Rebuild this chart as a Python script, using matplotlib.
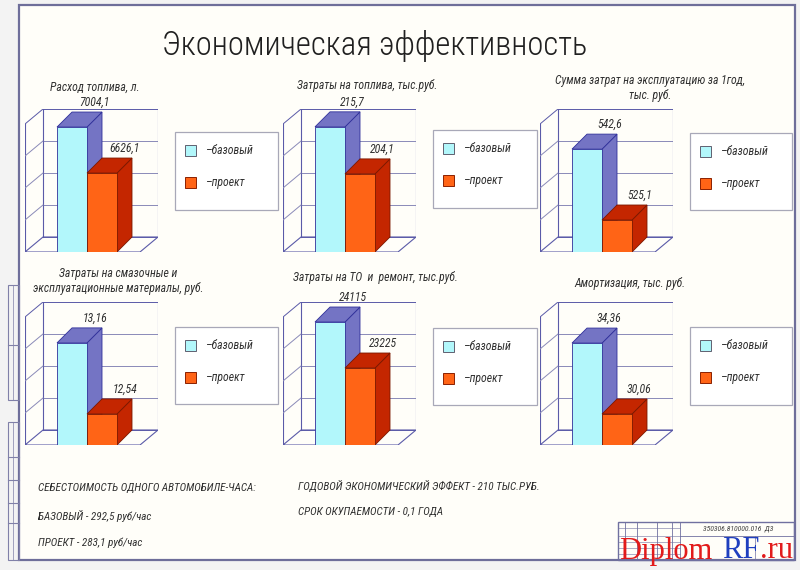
import matplotlib
matplotlib.use("Agg")
import matplotlib.pyplot as plt
from matplotlib.patches import Polygon, Rectangle
from matplotlib import font_manager as fm

# ---------------- data ----------------
titles = [
    "Расход топлива, л.",
    "Затраты на топлива, тыс.руб.",
    "Сумма затрат на эксплуатацию за 1год,\nтыс. руб.",
    "Затраты на смазочные и\nэксплуатационные материалы, руб.",
    "Затраты на ТО  и  ремонт, тыс.руб.",
    "Амортизация, тыс. руб.",
]
series_names = ["–базовый", "–проект"]
base_values = [7004.1, 215.7, 542.6, 13.16, 24115, 34.36]
proj_values = [6626.1, 204.1, 525.1, 12.54, 23225, 30.06]
base_labels = ["7004,1", "215,7", "542,6", "13,16", "24115", "34,36"]
proj_labels = ["6626,1", "204,1", "525,1", "12,54", "23225", "30,06"]
# value axis ranges of each panel (bottom, top of front plane)
y_ranges = [(5977, 7029), (184.85, 216.4), (517.2, 548.8),
            (12.269, 13.386), (21735, 24212), (28.18, 35.94)]
footer_left = ["СЕБЕСТОИМОСТЬ ОДНОГО АВТОМОБИЛЕ-ЧАСА:",
               "БАЗОВЫЙ - 292,5 руб/час",
               "ПРОЕКТ - 283,1 руб/час"]
footer_right = ["ГОДОВОЙ ЭКОНОМИЧЕСКИЙ ЭФФЕКТ - 210 ТЫС.РУБ.",
                "СРОК ОКУПАЕМОСТИ - 0,1 ГОДА"]
main_title = "Экономическая эффективность"

# ---------------- fonts ----------------
def pick(fams):
    for f in fams:
        try:
            fm.findfont(fm.FontProperties(family=f), fallback_to_default=False)
            return f
        except Exception:
            pass
    return "DejaVu Sans"

NARROW = pick(["Liberation Sans Narrow", "Roboto Condensed", "Open Sans Condensed", "Liberation Sans"])
FAM = [NARROW, "DejaVu Sans"]
plt.rcParams["font.family"] = FAM

W, H = 800, 570
fig = plt.figure(figsize=(8, 5.7), dpi=100)
fig.patch.set_facecolor("#f3f3f3")

def fx(x):
    return x / W

def fy(y):
    return 1 - y / H

# page background and frame
bg = fig.add_axes([0, 0, 1, 1])
bg.set_xlim(0, W)
bg.set_ylim(H, 0)
bg.axis("off")
bg.add_patch(Rectangle((19, 5), 776, 555, facecolor="#fffef9", edgecolor="#6e6e9a", lw=1.6))
# left strip
strip = "#8080a8"
for (y0, y1) in [(285, 400), (422, 560)]:
    bg.add_patch(Rectangle((8, y0), 11, y1 - y0, facecolor="none", edgecolor=strip, lw=0.8))
    bg.plot([13, 13], [y0, y1], color=strip, lw=0.5)
for yy in [345, 457, 480, 503, 523]:
    bg.plot([8, 19], [yy, yy], color=strip, lw=0.8)
# title block
tb = "#7070a0"
bg.add_patch(Rectangle((618, 522), 176, 38, facecolor="none", edgecolor=tb, lw=1.0))
for xx in [625, 637, 657, 672, 680]:
    bg.plot([xx, xx], [522, 560], color=tb, lw=0.6)
for yy in [528, 536, 542, 548, 554]:
    bg.plot([618, 680], [yy, yy], color=tb, lw=0.4)
bg.plot([680, 794], [536, 536], color=tb, lw=0.6)
bg.plot([755, 755], [536, 560], color=tb, lw=0.5)
bg.text(738, 529, "350306.810000.016  Д3", fontsize=5.5, style="italic",
        color="#404040", ha="center", va="center")

# main title
fig.text(fx(375), fy(46), main_title, fontsize=23.5, ha="center", va="center",
         color="#202020", family=FAM, fontweight="light")

# ---------------- panels ----------------
PX = 30.0             # pixels per bar unit
FRONT_H = 128.0       # px of front plane height
AX_W, AX_H = 133.0, 143.0
DXW, DYW = 18.0, 15.0  # wall depth in px
DXB, DYB = 15.0, 15.0  # bar depth in px
panel_pos = [(25, 252), (283, 252), (540, 252), (25, 445), (283, 445), (540, 445)]
title_pos = [(95, 87), (367, 85), (650, 88), (118, 281), (375, 278), (630, 283)]
legend_boxes = [(175, 132, 103, 78), (433, 130, 104, 78), (690, 133, 102, 77),
                (175, 327, 103, 77), (433, 328, 104, 77), (690, 327, 102, 78)]

wall_c = "#5a5aa8"
grid_c = "#8a8ab8"
blue_front, blue_dark, blue_edge = "#b2f7fb", "#7474c4", "#30309a"
or_front, or_dark, or_edge = "#ff6416", "#c42600", "#7a1800"

for i in range(6):
    x0, yb = panel_pos[i]
    lo, hi = y_ranges[i]
    k = (hi - lo) / FRONT_H
    ax = fig.add_axes([fx(x0), fy(yb), AX_W / W, AX_H / H])
    ax.set_xlim(0, AX_W / PX)
    ax.set_ylim(lo, lo + AX_H * k)
    ax.axis("off")
    dxw, dyw = DXW / PX, DYW * k
    dxb, dyb = DXB / PX, DYB * k
    right_front = (AX_W - DXW) / PX
    # floor
    ax.add_patch(Polygon([(0, lo), (right_front, lo), (right_front + dxw, lo + dyw), (dxw, lo + dyw)],
                         closed=True, fill=False, edgecolor=wall_c, lw=0.8))
    # back wall with gridlines
    for g in range(5):
        yv = lo + dyw + g * (hi - lo) / 4
        ax.plot([dxw, right_front + dxw], [yv, yv], color=grid_c if 0 < g < 4 else wall_c, lw=0.7)
    ax.plot([dxw, dxw], [lo + dyw, hi + dyw], color=wall_c, lw=0.8)
    ax.plot([right_front + dxw] * 2, [lo + dyw, hi + dyw], color=wall_c, lw=0.8)
    # left wall
    ax.plot([0, 0], [lo, hi], color=wall_c, lw=0.8)
    for g in range(1, 5):
        yv = lo + g * (hi - lo) / 4
        ax.plot([0, dxw], [yv, yv + dyw], color=grid_c if g < 4 else wall_c, lw=0.7)
    # bars
    vals = [base_values[i], proj_values[i]]
    labs = [base_labels[i], proj_labels[i]]
    cols = [(blue_front, blue_dark, blue_edge), (or_front, or_dark, or_edge)]
    starts = [32 / PX, 62 / PX]
    for j in range(2):
        xs, v = starts[j], vals[j]
        fc, dc, ec = cols[j]
        ax.add_patch(Polygon([(xs + 1, lo), (xs + 1 + dxb, lo + dyb), (xs + 1 + dxb, v + dyb), (xs + 1, v)],
                             closed=True, facecolor=dc, edgecolor=ec, lw=0.6, zorder=3 + 2 * j))
        ax.add_patch(Polygon([(xs, v), (xs + 1, v), (xs + 1 + dxb, v + dyb), (xs + dxb, v + dyb)],
                             closed=True, facecolor=dc, edgecolor=ec, lw=0.6, zorder=3 + 2 * j))
        ax.bar([xs], [v - lo], bottom=lo, width=1.0, align="edge", color=fc,
               edgecolor=ec, lw=0.6, zorder=4 + 2 * j)
        ax.text(xs + 0.5 + dxb + 0.25, v + dyb + 10 * k, labs[j], ha="center", va="center",
                fontsize=8.5, style="italic", color="#303030", clip_on=False, zorder=10)
    # panel title
    tx, ty = title_pos[i]
    fig.text(fx(tx), fy(ty), titles[i], ha="center", va="center", fontsize=8.5,
             style="italic", color="#303030", linespacing=1.25)
    # legend
    lx, ly, lw_, lh = legend_boxes[i]
    bg.add_patch(Rectangle((lx, ly), lw_, lh, facecolor="white", edgecolor="#a8a8b8", lw=0.9))
    for j in range(2):
        sy = ly + 13 + j * 32
        bg.add_patch(Rectangle((lx + 10, sy), 11, 11, facecolor=cols[j][0],
                               edgecolor="#606070" if j == 0 else "#8a2000", lw=0.7))
        bg.text(lx + 30, sy + 5.5, series_names[j], ha="left", va="center", fontsize=8.5,
                style="italic", color="#303030")

# footer texts
for n, t in enumerate(footer_left):
    bg.text(38, 488 + n * 27.5, t, ha="left", va="center", fontsize=8.0, style="italic", color="#303030")
for n, t in enumerate(footer_right):
    bg.text(298, 486 + n * 26, t, ha="left", va="center", fontsize=8.0, style="italic", color="#303030")

# watermark
SERIF = pick(["Liberation Serif", "DejaVu Serif"])
bg.text(619, 551, "Diplom", fontsize=22, family=SERIF, color="#e21b1b", ha="left", va="center")
bg.text(722, 551, "RF", fontsize=22, family=SERIF, color="#1f3fbf", ha="left", va="center")
bg.text(760, 551, ".ru", fontsize=22, family=SERIF, color="#e21b1b", ha="left", va="center")

fig.savefig("out.png", dpi=100, facecolor=fig.get_facecolor())
